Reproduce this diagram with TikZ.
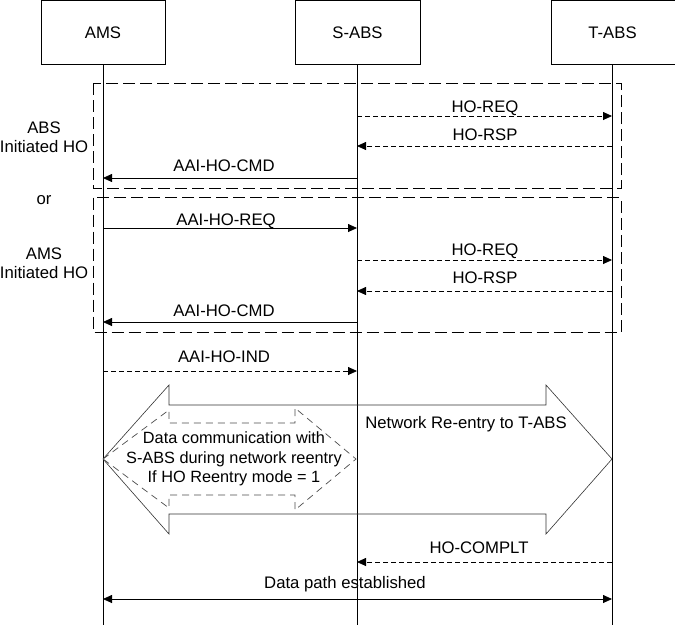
\documentclass[tikz,border=0pt]{standalone}
\usepackage{fontspec}
\setmainfont{Liberation Sans}
\usetikzlibrary{arrows.meta}
\begin{document}
\begin{tikzpicture}[x=1pt,y=-1pt,
  every node/.style={font=\fontsize{16.7}{19.5}\selectfont, inner sep=0pt},
  entity/.style={draw, line width=0.8pt, minimum width=124pt, minimum height=64pt, anchor=north west},
  life/.style={line width=0.8pt},
  solidmsg/.style={line width=0.8pt, -{Triangle[length=9pt,width=8pt]}},
  dashmsg/.style={line width=0.8pt, dash pattern=on 5pt off 3pt, -{Triangle[length=9pt,width=8pt]}},
  frame/.style={line width=0.8pt, dash pattern=on 12pt off 5pt},
  lbl/.style={anchor=base},
  bigarrow/.style={line width=0.6pt, draw=black!80},
  innerarrow/.style={line width=0.7pt, draw=black!70, dash pattern=on 7pt off 5pt}
]
\useasboundingbox (0,0) rectangle (675,625);

% entities
\node[entity] (ams) at (41,0.4) {};
\node[entity, minimum width=125pt] (sabs) at (295,0.4) {};
\node[entity] (tabs) at (551,0.4) {};
\node[lbl] (amsl) at (103,38) {AMS};
\node[lbl] (sabsl) at (357.5,38) {S-ABS};
\node[lbl] (tabsl) at (612.5,38) {T-ABS};

% lifelines
\coordinate (amsb) at (103,625);
\coordinate (sabsb) at (357,625);
\coordinate (tabsb) at (612,625);
\draw[life] (103,64.4) -- (amsb);
\draw[life] (357,64.4) -- (sabsb);
\draw[life] (612,64.4) -- (tabsb);

% frames
\draw[frame] (93,83) rectangle (621,188);
\draw[frame] (93,197.5) rectangle (621,332);

\node[lbl] (abs1) at (44,133) {ABS};
\node[lbl] (abs2) at (44,152) {Initiated HO};
\node[lbl] (or) at (44,204) {or};
\node[lbl] (amsi1) at (44,259) {AMS};
\node[lbl] (amsi2) at (44,278) {Initiated HO};

% message anchor points
\coordinate (s1) at (357,116); \coordinate (t1) at (612,116);
\coordinate (s2) at (357,146); \coordinate (t2) at (612,146);
\coordinate (s3) at (357,178); \coordinate (a3) at (103,178);
\coordinate (a4) at (103,228); \coordinate (s4) at (357,228);
\coordinate (s5) at (357,260); \coordinate (t5) at (612,260);
\coordinate (s6) at (357,291); \coordinate (t6) at (612,291);
\coordinate (s7) at (357,322); \coordinate (a7) at (103,322);
\coordinate (a8) at (103,371); \coordinate (s8) at (357,371);
\coordinate (t9) at (612,562); \coordinate (s9) at (357,562);
\coordinate (a10) at (103,599); \coordinate (t10) at (612,599);

\draw[dashmsg] (s1) -- (t1);
\node[lbl] (l1) at (485,112) {HO-REQ};
\draw[dashmsg] (t2) -- (s2);
\node[lbl] (l2) at (485,140) {HO-RSP};
\draw[solidmsg] (s3) -- (a3);
\node[lbl] (l3) at (224,171) {AAI-HO-CMD};

\draw[solidmsg] (a4) -- (s4);
\node[lbl] (l4) at (226,225) {AAI-HO-REQ};
\draw[dashmsg] (s5) -- (t5);
\node[lbl] (l5) at (485,255) {HO-REQ};
\draw[dashmsg] (t6) -- (s6);
\node[lbl] (l6) at (485,283) {HO-RSP};
\draw[solidmsg] (s7) -- (a7);
\node[lbl] (l7) at (224,316) {AAI-HO-CMD};

\draw[dashmsg] (a8) -- (s8);
\node[lbl] (l8) at (224,362) {AAI-HO-IND};

% big double arrow
\draw[bigarrow] (103,459) -- (169,385) -- (169,405) -- (546,405) -- (546,385)
  -- (612,459) -- (546,534) -- (546,514) -- (169,514) -- (169,534) -- cycle;
\node[lbl] (net) at (466,428) {Network Re-entry to T-ABS};

% inner dashed double arrow
\draw[innerarrow] (103,459) -- (169,410) -- (169,423) -- (295,423) -- (295,408)
  -- (356,459) -- (295,510) -- (295,495) -- (169,495) -- (169,508) -- cycle;
\node[align=center, font=\fontsize{16.3}{19.5}\selectfont] (data) at (234,459) {Data communication with\\S-ABS during network reentry\\If HO Reentry mode = 1};

\draw[dashmsg] (t9) -- (s9);
\node[lbl] (l9) at (479,553) {HO-COMPLT};

\draw[line width=0.8pt, {Triangle[length=9pt,width=8pt]}-{Triangle[length=9pt,width=8pt]}] (a10) -- (t10);
\node[lbl] (l10) at (345,588) {Data path established};
\end{tikzpicture}
\end{document}
